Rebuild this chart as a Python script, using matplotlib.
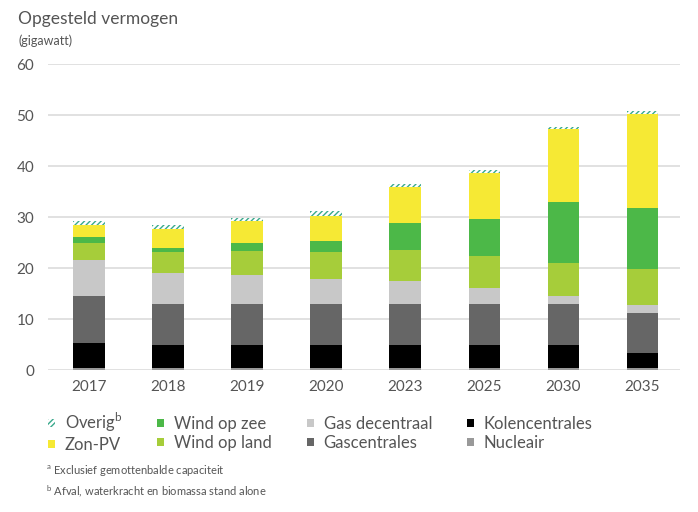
import matplotlib.pyplot as plt
from matplotlib.patches import Patch
import numpy as np

plt.rcParams['font.family'] = ['Lato', 'DejaVu Sans']
plt.rcParams['hatch.linewidth'] = 1.0

years = ['2017', '2018', '2019', '2020', '2023', '2025', '2030', '2035']

# gigawatt per bron (gelezen van de grafiek)
nucleair = [0.5, 0.5, 0.5, 0.5, 0.5, 0.5, 0.5, 0.5]
kolen = [4.9, 4.4, 4.4, 4.4, 4.4, 4.4, 4.4, 2.8]
gascentrales = [9.1, 8.0, 8.0, 8.0, 8.0, 8.0, 8.0, 8.0]
gas_decentraal = [7.1, 6.1, 5.7, 4.9, 4.6, 3.2, 1.6, 1.5]
wind_land = [3.4, 4.2, 4.8, 5.3, 6.0, 6.3, 6.5, 7.0]
wind_zee = [1.0, 0.8, 1.6, 2.3, 5.4, 7.2, 12.0, 11.9]
zon_pv = [2.4, 3.6, 4.2, 4.8, 6.9, 9.1, 14.2, 18.5]
overig = [0.9, 0.8, 0.7, 1.0, 0.7, 0.6, 0.5, 0.6]

grey_txt = '#555555'
green_hatch = '#3aa98c'

series = [
    (nucleair, '#999999', None),
    (kolen, '#000000', None),
    (gascentrales, '#666666', None),
    (gas_decentraal, '#c8c8c8', None),
    (wind_land, '#a6cd3a', None),
    (wind_zee, '#4cb848', None),
    (zon_pv, '#f6e934', None),
    (overig, 'white', '//////'),
]

fig = plt.figure(figsize=(6.98, 5.12), dpi=100)
ax = fig.add_axes([0.0688, 0.277, 0.905, 0.598])

x = np.arange(len(years))
bottom = np.zeros(len(years))
for vals, col, hatch in series:
    if hatch:
        ax.bar(x, vals, 0.40, bottom=bottom, color=col, edgecolor=green_hatch,
               linewidth=0, hatch=hatch, zorder=3)
    else:
        ax.bar(x, vals, 0.40, bottom=bottom, color=col, linewidth=0, zorder=3)
    bottom += np.array(vals)

for v in range(0, 61, 10):
    ax.axhline(v, color='#dcdcdc', lw=1.2, zorder=1)

ax.set_xlim(-0.518, 7.47)
ax.set_ylim(0, 60)
ax.set_yticks(range(0, 61, 10))
ax.set_xticks(x)
ax.set_xticklabels(years)
ax.tick_params(length=0, labelsize=11, colors=grey_txt)
ax.tick_params(axis='y', pad=10)
ax.tick_params(axis='x', pad=7)
for s in ax.spines.values():
    s.set_visible(False)

fig.text(0.026, 0.962, 'Opgesteld vermogen', fontsize=12.5, color=grey_txt, va='center')
fig.text(0.026, 0.921, '(gigawatt)', fontsize=9, color=grey_txt, va='center')

handles = [
    Patch(facecolor='white', edgecolor=green_hatch, linewidth=0, hatch='//////'),
    Patch(facecolor='#f6e934'),
    Patch(facecolor='#4cb848'),
    Patch(facecolor='#a6cd3a'),
    Patch(facecolor='#c8c8c8'),
    Patch(facecolor='#666666'),
    Patch(facecolor='#000000'),
    Patch(facecolor='#999999'),
]
labels = [r'Overig$^\mathregular{b}$', 'Zon-PV', 'Wind op zee', 'Wind op land',
          'Gas decentraal', 'Gascentrales', 'Kolencentrales', 'Nucleair']
leg = fig.legend(handles, labels, ncol=4, loc='upper left', bbox_to_anchor=(0.069, 0.197),
                 frameon=False, fontsize=12, handlelength=0.4, handleheight=0.4,
                 handletextpad=0.6, columnspacing=2.1, labelspacing=0.15,
                 borderaxespad=0, borderpad=0)
for t in leg.get_texts():
    t.set_color(grey_txt)

fig.text(0.066, 0.081, r'$^\mathregular{a}$ Exclusief gemottenbalde capaciteit', fontsize=8,
         color=grey_txt, va='center')
fig.text(0.066, 0.041, r'$^\mathregular{b}$ Afval, waterkracht en biomassa stand alone', fontsize=8,
         color=grey_txt, va='center')

fig.savefig('out.png', dpi=100)
